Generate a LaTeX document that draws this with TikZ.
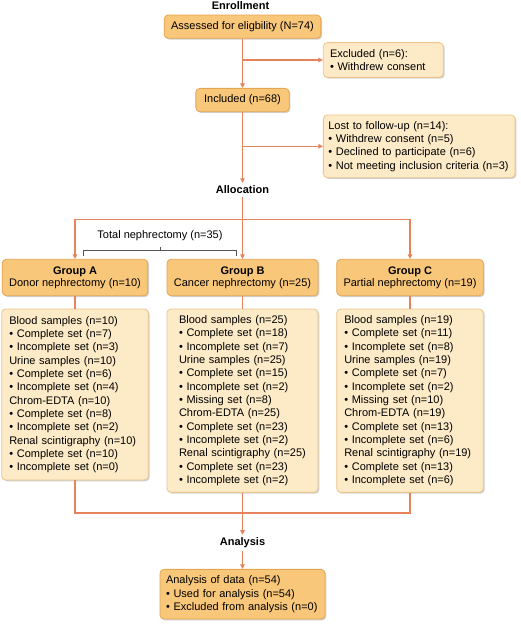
\documentclass[tikz,border=0pt]{standalone}
\usepackage{fontspec}
\setmainfont{Liberation Sans}
\usetikzlibrary{arrows.meta,shadows}
\definecolor{arrowc}{HTML}{E5835D}
\definecolor{darkfill}{HTML}{F9C77A}
\definecolor{darkdraw}{HTML}{E3A553}
\definecolor{lightfill}{HTML}{FDEAC7}
\definecolor{lightdraw}{HTML}{EBC48E}
\definecolor{brack}{HTML}{555555}
\tikzset{
  basebox/.style={rounded corners=4pt, line width=0.8pt, inner ysep=0pt,
    drop shadow={shadow xshift=1.3pt, shadow yshift=-1.3pt, opacity=0.3, fill=black!60},
    font=\fontsize{11}{13.33}\selectfont},
  darkbox/.style={basebox, draw=darkdraw, fill=darkfill},
  lightbox/.style={basebox, draw=lightdraw, fill=lightfill},
  stagelabel/.style={font=\fontsize{11}{13}\selectfont\bfseries, inner sep=3pt},
  conn/.style={draw=arrowc, line width=1.3pt},
  arr/.style={conn, -{Triangle[length=4.5pt,width=4.5pt]}},
  brackline/.style={draw=brack, line width=0.7pt},
}
\begin{document}
\begin{tikzpicture}[x=1pt,y=-1pt]
\useasboundingbox (0,0) rectangle (520,626);
% stage labels
\node[stagelabel] (enr) at (240.5,5.5) {Enrollment};
\node[stagelabel] (alloc) at (242.5,190) {Allocation};
\node[stagelabel] (anl) at (242.5,543) {Analysis};
% enrollment boxes
\node[darkbox, minimum width=156.7pt, minimum height=23.3pt, align=center] (assess) at (242.5,26.7) {Assessed for eligbility (N=74)};
\node[lightbox, minimum height=34.7pt, inner xsep=6.7pt, text width=106.6pt, align=left] (excl) at (383.3,60) {Excluded (n=6):\\\textbullet\ Withdrew consent};
\node[darkbox, minimum width=93.3pt, minimum height=23.3pt, align=center] (incl) at (242.5,100) {Included (n=68)};
\node[lightbox, minimum height=62.7pt, inner xsep=5pt, text width=181.7pt, align=left] (lost) at (419.2,146.3) {Lost to follow-up (n=14):\\\textbullet\ Withdrew consent (n=5)\\\textbullet\ Declined to participate (n=6)\\\textbullet\ Not meeting inclusion criteria (n=3)};
% groups
\node[darkbox, minimum width=145.6pt, minimum height=36.4pt, align=center, font=\fontsize{11}{12}\selectfont] (gA) at (75,277.5) {\textbf{Group A}\\Donor nephrectomy (n=10)};
\node[darkbox, minimum width=151pt, minimum height=36.4pt, align=center, font=\fontsize{11}{12}\selectfont] (gB) at (242.5,277.5) {\textbf{Group B}\\Cancer nephrectomy (n=25)};
\node[darkbox, minimum width=146.6pt, minimum height=36.4pt, align=center, font=\fontsize{11}{12}\selectfont] (gC) at (410,277.5) {\textbf{Group C}\\Partial nephrectomy (n=19)};
% details
\node[lightbox, minimum height=171pt, inner xsep=7.6pt, text width=131.4pt, align=left] (dA) at (75,394.5) {Blood samples (n=10)\\\textbullet\ Complete set (n=7)\\\textbullet\ Incomplete set (n=3)\\Urine samples (n=10)\\\textbullet\ Complete set (n=6)\\\textbullet\ Incomplete set (n=4)\\Chrom-EDTA (n=10)\\\textbullet\ Complete set (n=8)\\\textbullet\ Incomplete set (n=2)\\Renal scintigraphy (n=10)\\\textbullet\ Complete set (n=10)\\\textbullet\ Incomplete set (n=0)};
\node[lightbox, minimum height=183.3pt, inner xsep=12pt, text width=127pt, align=left] (dB) at (242.5,400.7) {Blood samples (n=25)\\\textbullet\ Complete set (n=18)\\\textbullet\ Incomplete set (n=7)\\Urine samples (n=25)\\\textbullet\ Complete set (n=15)\\\textbullet\ Incomplete set (n=2)\\\textbullet\ Missing set (n=8)\\Chrom-EDTA (n=25)\\\textbullet\ Complete set (n=23)\\\textbullet\ Incomplete set (n=2)\\Renal scintigraphy (n=25)\\\textbullet\ Complete set (n=23)\\\textbullet\ Incomplete set (n=2)};
\node[lightbox, minimum height=183.3pt, inner xsep=7.6pt, text width=131.4pt, align=left] (dC) at (410,400.7) {Blood samples (n=19)\\\textbullet\ Complete set (n=11)\\\textbullet\ Incomplete set (n=8)\\Urine samples (n=19)\\\textbullet\ Complete set (n=7)\\\textbullet\ Incomplete set (n=2)\\\textbullet\ Missing set (n=10)\\Chrom-EDTA (n=19)\\\textbullet\ Complete set (n=13)\\\textbullet\ Incomplete set (n=6)\\Renal scintigraphy (n=19)\\\textbullet\ Complete set (n=13)\\\textbullet\ Incomplete set (n=6)};
% analysis
\node[darkbox, minimum height=49.7pt, inner xsep=6pt, text width=153pt, align=left] (data) at (242.5,594.2) {Analysis of data (n=54)\\\textbullet\ Used for analysis (n=54)\\\textbullet\ Excluded from analysis (n=0)};
% total nephrectomy bracket
\node[font=\fontsize{11}{13}\selectfont, inner sep=0pt] (tot) at (160,236) {Total nephrectomy (n=35)};
\coordinate (bl) at (83.3,256);
\coordinate (br) at (236.7,256);
\coordinate (bm) at (160,250.5);
\coordinate (bt) at (160,246.5);
\draw[brackline] (bl) -- (bl |- bm) -- (br |- bm) -- (br);
\draw[brackline] (bm) -- (bt);
% connectors
\draw[arr] (assess) -- (incl);
\draw[arr] (assess.south |- excl.west) -- (excl.west);
\draw[arr] (incl) -- (alloc);
\draw[arr] (incl.south |- lost.west) -- (lost.west);
\coordinate (split) at (242.5,219.3);
\draw[arr] (alloc) -- (gB);
\draw[arr] (split) -| (gA.north);
\draw[arr] (split) -| (gC.north);
\draw[conn] (gA) -- (dA);
\draw[conn] (gB) -- (dB);
\draw[conn] (gC) -- (dC);
\coordinate (merge) at (242.5,513);
\draw[conn] (dA.south) |- (merge);
\draw[conn] (dC.south) |- (merge);
\draw[arr] (dB) -- (anl);
\draw[arr] (anl) -- (data);
\end{tikzpicture}
\end{document}
